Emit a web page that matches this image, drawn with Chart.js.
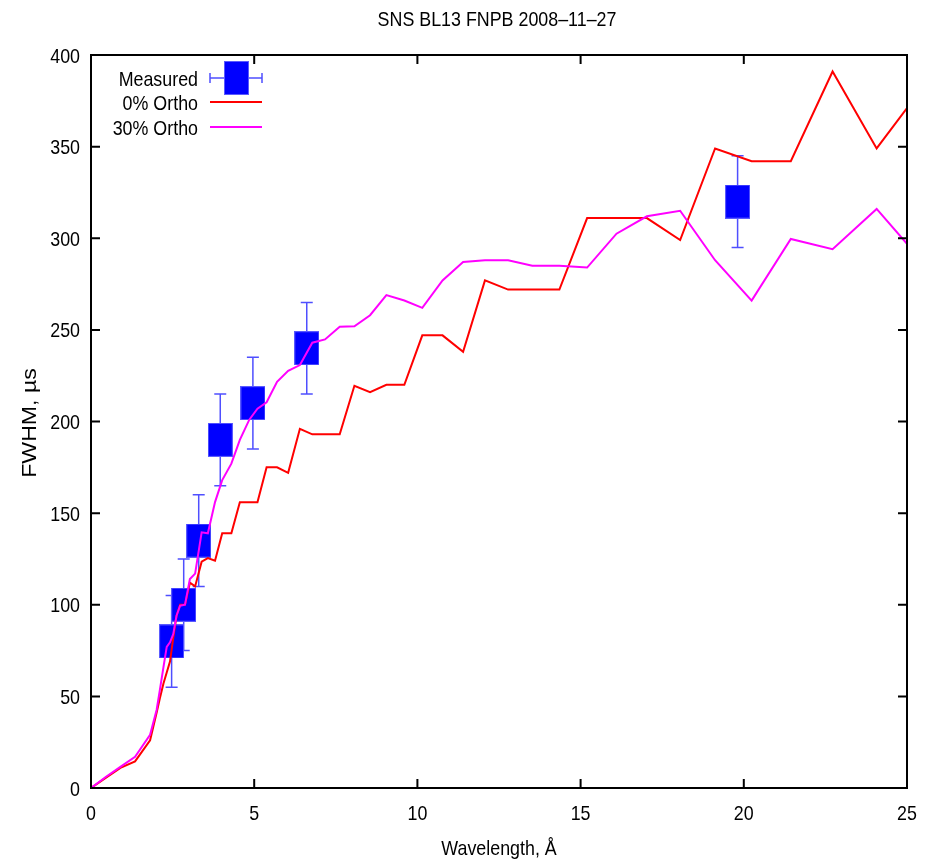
<!DOCTYPE html>
<html>
<head>
<meta charset="utf-8">
<script src="https://cdn.jsdelivr.net/npm/chart.js@4.4.1/dist/chart.umd.min.js"></script>
<style>
  html, body { margin: 0; padding: 0; background: #fff; }
  #wrap { width: 932px; height: 862px; }
</style>
</head>
<body>
<div id="wrap"><canvas id="grafico" width="932" height="862"></canvas></div>
<script>
// titulos y etiquetas
var titulo = 'SNS BL13 FNPB 2008\u201311\u201327';
var tituloX = 'Wavelength, \u00c5';
var tituloY = 'FWHM, \u00b5s';
var xTicks = [0, 5, 10, 15, 20, 25];
var yTicks = [0, 50, 100, 150, 200, 250, 300, 350, 400];
var leyenda = ['Measured', '0% Ortho', '30% Ortho'];

// longitud de onda comun a las dos simulaciones
var lambda = [0, 0.45, 0.9, 1.35, 1.81, 2.01, 2.11, 2.22, 2.32, 2.42, 2.52, 2.62, 2.73, 2.88,
  3.03, 3.19, 3.39, 3.58, 3.8, 4.02, 4.3, 4.56, 4.85, 5.1, 5.38, 5.7, 6.04, 6.4, 6.78, 7.17,
  7.62, 8.07, 8.55, 9.05, 9.6, 10.15, 10.77, 11.4, 12.07, 12.78, 13.52, 14.35, 15.2, 16.1,
  17.03, 18.05, 19.12, 20.24, 21.44, 22.72, 24.07, 25.0];
// 0% orto
var fwhmOrtho0 = [0, 5.5, 11, 14.5, 26, 41, 49, 57, 63, 69, 82, 94, 100, 100,
  112, 110, 123.5, 125.5, 124, 139, 139, 156, 156, 156, 175, 175, 172, 196, 193, 193,
  193, 219.5, 216, 220, 220, 247, 247, 238, 277, 272, 272, 272, 311, 311,
  311, 299, 349, 342, 342, 391, 349, 371];
// 30% orto
var fwhmOrtho30 = [0, 6, 11.5, 17, 29, 42.6, 53.5, 66, 77, 79.5, 84, 94, 99.5, 100,
  114, 117, 139.5, 139, 156, 168, 177, 190, 201, 207, 210.5, 221.7, 227.7, 230.8, 243, 244.8,
  251.7, 252, 258, 269, 266, 262, 277, 287, 288, 288, 285, 285, 284, 302.5,
  312, 315, 288, 266, 299.6, 294, 316, 297];

// medidas
var medidaX = [2.47, 2.84, 3.3, 3.96, 4.96, 6.61, 19.81];
var medidaY = [80, 100, 135, 190, 210, 240, 320];
var medidaErr = [25, 25, 25, 25, 25, 25, 25];

var fuente = '"Liberation Sans", Arial, Helvetica, sans-serif';
var estrecho = 0.85; // el texto original es mas estrecho que alto

function puntos(xs, ys) {
    return xs.map(function (x, i) { return { x: x, y: ys[i] }; });
}

// caja azul de las medidas
function crearCaja(w, h) {
    var c = document.createElement('canvas');
    c.width = w;
    c.height = h;
    var g = c.getContext('2d');
    g.fillStyle = '#0000ff';
    g.fillRect(0, 0, w, h);
    g.strokeStyle = '#5a5aff';
    g.lineWidth = 1;
    g.strokeRect(0.5, 0.5, w - 1, h - 1);
    return c;
}
var caja = crearCaja(25, 34);

// texto con escala horizontal (x,y = punto de anclaje sobre la linea base)
function texto(ctx, str, x, y, align, sx, rot) {
    ctx.save();
    ctx.translate(x, y);
    if (rot) ctx.rotate(rot);
    ctx.scale(sx, 1);
    ctx.textAlign = align;
    ctx.textBaseline = 'alphabetic';
    ctx.fillText(str, 0, 0);
    ctx.restore();
}

var plugGnuplot = {
    id: 'gnuplot',
    beforeDatasetsDraw: function (chart) {
        var ctx = chart.ctx;
        var sx = chart.scales.x, sy = chart.scales.y;
        ctx.save();
        ctx.strokeStyle = '#4f4fff';
        ctx.lineWidth = 1.5;
        medidaX.forEach(function (x, i) {
            var px = sx.getPixelForValue(x);
            var y1 = sy.getPixelForValue(medidaY[i] - medidaErr[i]);
            var y2 = sy.getPixelForValue(medidaY[i] + medidaErr[i]);
            ctx.beginPath();
            ctx.moveTo(px, y1); ctx.lineTo(px, y2);
            ctx.moveTo(px - 6, y1); ctx.lineTo(px + 6, y1);
            ctx.moveTo(px - 6, y2); ctx.lineTo(px + 6, y2);
            ctx.stroke();
        });
        ctx.restore();
    },
    afterDraw: function (chart) {
        var ctx = chart.ctx;
        var a = chart.chartArea;
        var sx = chart.scales.x, sy = chart.scales.y;
        var tl = 9;
        ctx.save();
        ctx.strokeStyle = '#000';
        ctx.lineWidth = 2;
        ctx.beginPath();
        xTicks.forEach(function (v) {
            var px = sx.getPixelForValue(v);
            ctx.moveTo(px, a.bottom); ctx.lineTo(px, a.bottom - tl);
            ctx.moveTo(px, a.top); ctx.lineTo(px, a.top + tl);
        });
        yTicks.forEach(function (v) {
            var py = sy.getPixelForValue(v);
            ctx.moveTo(a.left, py); ctx.lineTo(a.left + tl, py);
            ctx.moveTo(a.right, py); ctx.lineTo(a.right - tl, py);
        });
        ctx.stroke();
        ctx.strokeRect(a.left, a.top, a.right - a.left, a.bottom - a.top);

        ctx.fillStyle = '#000';
        ctx.font = '21px ' + fuente;

        // etiquetas de los ejes
        xTicks.forEach(function (v) {
            texto(ctx, String(v), sx.getPixelForValue(v), a.bottom + 32, 'center', estrecho);
        });
        yTicks.forEach(function (v) {
            texto(ctx, String(v), a.left - 11, sy.getPixelForValue(v) + 7.5, 'right', estrecho);
        });

        // titulos
        texto(ctx, titulo, 497, 26, 'center', estrecho);
        texto(ctx, tituloX, (a.left + a.right) / 2, 855, 'center', estrecho);
        texto(ctx, tituloY, 36, 423, 'center', 1.1, -Math.PI / 2);

        // leyenda
        var lx = 198, s1 = 210, s2 = 262;
        var filas = [78, 102, 127];
        leyenda.forEach(function (t, i) {
            texto(ctx, t, lx, filas[i] + 7.5, 'right', estrecho);
        });

        ctx.strokeStyle = '#4f4fff';
        ctx.lineWidth = 1.5;
        ctx.beginPath();
        ctx.moveTo(s1, filas[0]); ctx.lineTo(s2, filas[0]);
        ctx.moveTo(s1, filas[0] - 5); ctx.lineTo(s1, filas[0] + 5);
        ctx.moveTo(s2, filas[0] - 5); ctx.lineTo(s2, filas[0] + 5);
        ctx.stroke();
        ctx.drawImage(caja, (s1 + s2) / 2 - 12, filas[0] - 17);

        ctx.lineWidth = 2;
        ctx.strokeStyle = '#ff0000';
        ctx.beginPath(); ctx.moveTo(s1, filas[1]); ctx.lineTo(s2, filas[1]); ctx.stroke();
        ctx.strokeStyle = '#ff00ff';
        ctx.beginPath(); ctx.moveTo(s1, filas[2]); ctx.lineTo(s2, filas[2]); ctx.stroke();
        ctx.restore();
    }
};

var ctx = document.getElementById('grafico').getContext('2d');
var grafico = new Chart(ctx, {
    type: 'scatter',
    data: {
        datasets: [{
            label: leyenda[0],
            data: puntos(medidaX, medidaY),
            pointStyle: caja,
            pointRadius: 12,
            pointHoverRadius: 12,
            showLine: false,
            order: 3
        }, {
            label: leyenda[1],
            data: puntos(lambda, fwhmOrtho0),
            showLine: true,
            borderColor: '#ff0000',
            borderWidth: 2,
            pointRadius: 0,
            tension: 0,
            order: 2
        }, {
            label: leyenda[2],
            data: puntos(lambda, fwhmOrtho30),
            showLine: true,
            borderColor: '#ff00ff',
            borderWidth: 2,
            pointRadius: 0,
            tension: 0,
            order: 1
        }]
    },
    options: {
        responsive: false,
        animation: false,
        events: [],
        layout: { padding: { top: 55, right: 25, left: 0, bottom: 0 } },
        plugins: {
            legend: { display: false },
            title: { display: false },
            tooltip: { enabled: false }
        },
        scales: {
            x: {
                type: 'linear',
                min: 0,
                max: 25,
                afterBuildTicks: function (s) { s.ticks = xTicks.map(function (v) { return { value: v }; }); },
                afterFit: function (s) { s.height = 74; },
                grid: { display: false, drawTicks: false },
                border: { display: false },
                ticks: { display: false }
            },
            y: {
                type: 'linear',
                min: 0,
                max: 400,
                afterBuildTicks: function (s) { s.ticks = yTicks.map(function (v) { return { value: v }; }); },
                afterFit: function (s) { s.width = 91; },
                grid: { display: false, drawTicks: false },
                border: { display: false },
                ticks: { display: false }
            }
        }
    },
    plugins: [plugGnuplot]
});
</script>
</body>
</html>
